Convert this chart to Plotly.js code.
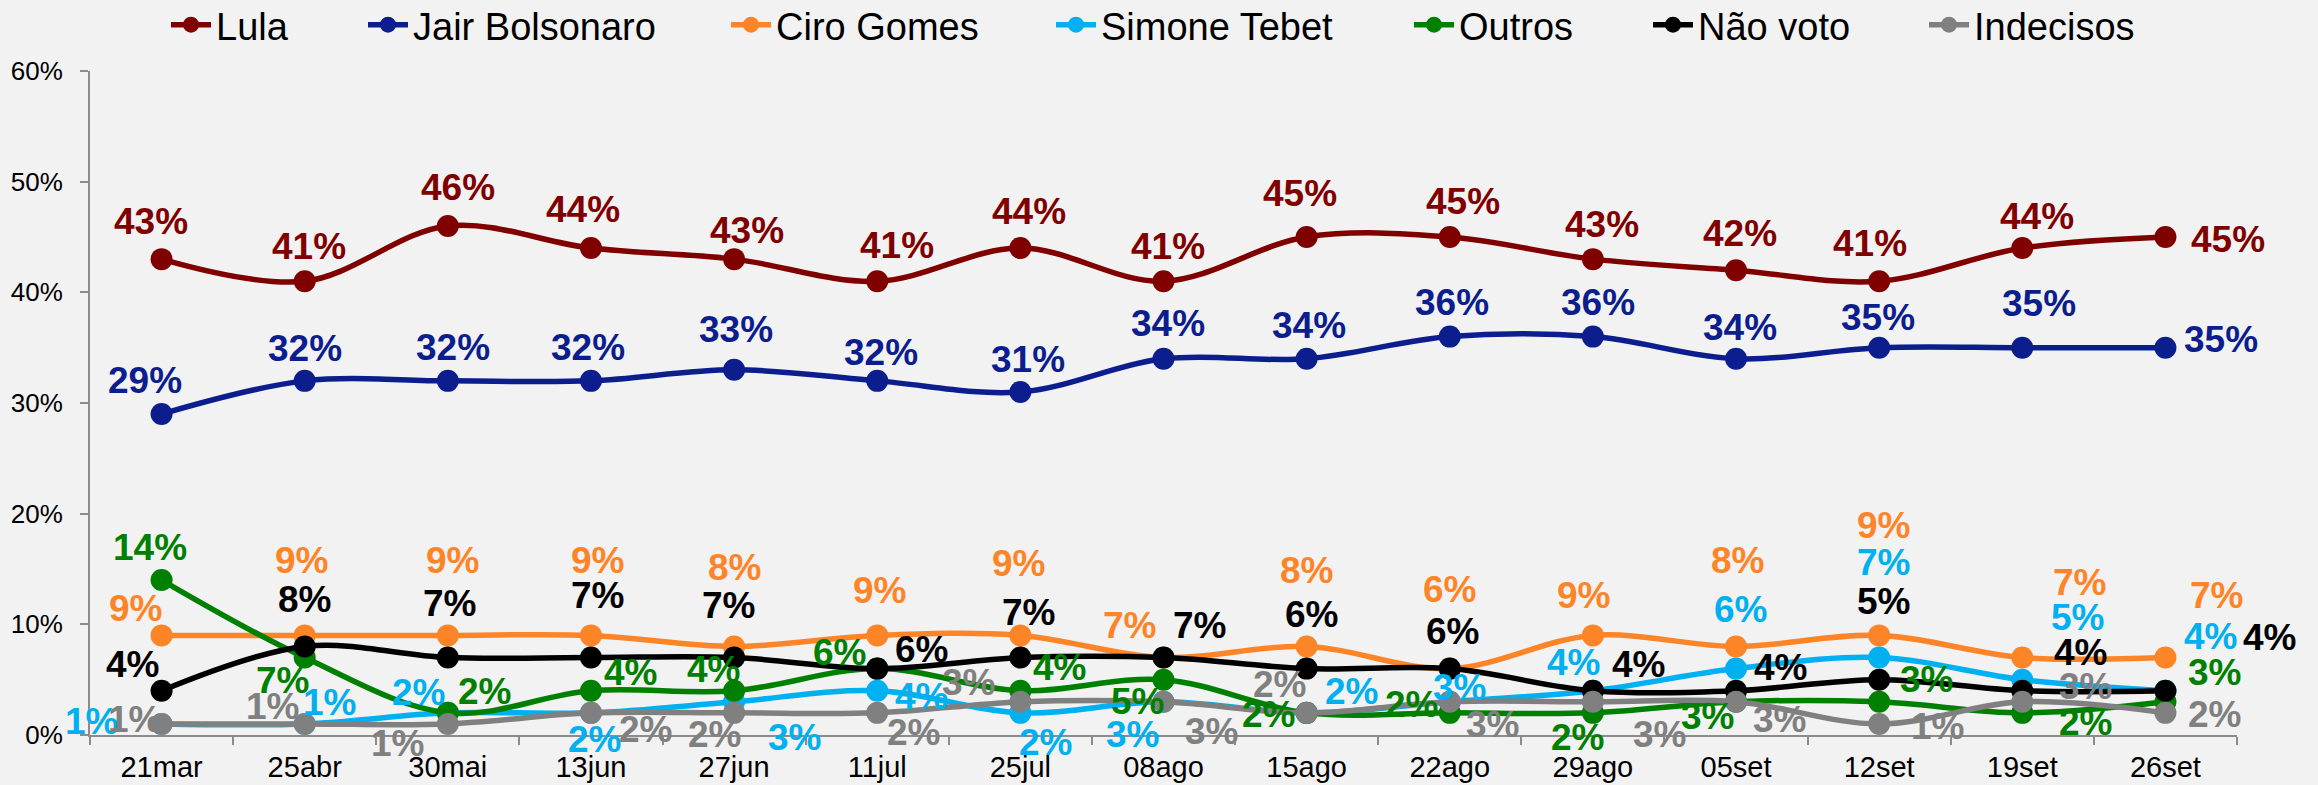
<!DOCTYPE html>
<html>
<head>
<meta charset="utf-8">
<script src="https://cdn.plot.ly/plotly-3.0.1.min.js"></script>
<style>html,body{margin:0;padding:0;background:#f2f2f2;}#chart{width:2318px;height:785px;}</style>
</head>
<body>
<div id="chart"></div>
<script>
// ---- data ----
const categories = ["21mar","25abr","30mai","13jun","27jun","11jul","25jul","08ago","15ago","22ago","29ago","05set","12set","19set","26set"];
const seriesNames = ["Lula","Jair Bolsonaro","Ciro Gomes","Simone Tebet","Outros","Não voto","Indecisos"];
const lula       = [43,41,46,44,43,41,44,41,45,45,43,42,41,44,45];
const bolsonaro  = [29,32,32,32,33,32,31,34,34,36,36,34,35,35,35];
const ciro       = [9,9,9,9,8,9,9,7,8,6,9,8,9,7,7];
const tebet      = [1,1,2,2,3,4,2,3,2,3,4,6,7,5,4];
const outros     = [14,7,2,4,4,6,4,5,2,2,2,3,3,2,3];
const naoVoto    = [4,8,7,7,7,6,7,7,6,6,4,4,5,4,4];
const indecisos  = [1,1,1,2,2,2,3,3,2,3,3,3,1,3,2];
const yTickVals  = [0,10,20,30,40,50,60];

// ---- styles ----
const colors = ["#800000","#0c1e8e","#fd8427","#00b0f0","#008000","#000000","#808080"];
const FONT = "Liberation Sans, Arial, sans-serif";
// legend entry marker centres (px from left)
const legendMarkerX = [186,383,746,1071,1429,1668,1944];

// label offsets in pixels (dx right, dy down)
const labelOffsets = [
  {dx:[-11,4,10,-8,13,20,9,4,-7,13,9,4,-9,15,63], dy:[-38,-35,-38,-39,-29,-36,-37,-35,-44,-36,-35,-37,-38,-32,2]},
  {dx:[-17,0,5,-3,2,4,8,4,2,2,5,4,-1,17,56], dy:[-34,-32,-33,-33,-40,-28,-32,-35,-33,-34,-34,-31,-30,-44,-8]},
  {dx:[-26,-3,5,7,0,2,-2,-34,0,0,-9,1,4,57,51], dy:[-27,-75,-75,-75,-79,-45,-72,-32,-76,-79,-40,-86,-110,-75,-62]},
  {dx:[-70,25,-29,4,60,44,25,-31,45,10,-19,4,4,55,45], dy:[-2,-21,-20,27,36,6,30,33,-21,-14,-28,-59,-95,-62,-54]},
  {dx:[-12,-22,37,40,-21,-38,39,-26,-38,-38,-15,-29,47,63,49], dy:[-33,23,-21,-18,-21,-16,-23,22,2,-8,25,15,-22,10,-29]},
  {dx:[-29,0,2,7,-6,44,8,36,5,3,46,44,4,58,104], dy:[-26,-47,-54,-62,-52,-19,-45,-32,-54,-37,-26,-23,-78,-38,-53]},
  {dx:[-27,-32,-50,55,-20,36,-52,48,-27,43,67,43,58,63,49], dy:[-4,-17,20,17,22,20,-19,30,-28,23,33,18,3,-15,2]}
];

const seriesValues = [lula,bolsonaro,ciro,tebet,outros,naoVoto,indecisos];
const legendId = k => (k===0 ? "legend" : "legend"+(k+1));

const traces = seriesValues.map((vals,k)=>({
  type:"scatter", mode:"lines+markers", name:seriesNames[k],
  x:categories, y:vals, legend:legendId(k),
  line:{color:colors[k], width:5.5, shape:"spline", smoothing:1},
  marker:{color:colors[k], size:22},
  hoverinfo:"skip"
}));

const annotations = [];
seriesValues.forEach((vals,k)=>{
  vals.forEach((v,i)=>{
    annotations.push({
      x:categories[i], y:v, xref:"x", yref:"y",
      text:v+"%", showarrow:false,
      xanchor:"center", yanchor:"middle",
      xshift:labelOffsets[k].dx[i], yshift:-labelOffsets[k].dy[i],
      font:{family:FONT, size:37, color:colors[k], weight:"bold"}
    });
  });
});

const layout = {
  width:2318, height:785,
  paper_bgcolor:"#f2f2f2", plot_bgcolor:"#f2f2f2",
  margin:{l:90, r:81, t:71, b:50, pad:0, autoexpand:false},
  font:{family:FONT, color:"#000"},
  showlegend:true,
  xaxis:{type:"category", range:[-0.5,14.5], showgrid:false, zeroline:false,
         showline:true, linecolor:"#8c8c8c", linewidth:2,
         ticks:"outside", tickson:"boundaries", ticklen:8, tickcolor:"#8c8c8c", tickwidth:2,
         ticklabelstandoff:5,
         tickfont:{family:FONT, size:29, color:"#000"}, fixedrange:true},
  yaxis:{range:[0,60], tickvals:yTickVals, ticktext:yTickVals.map(v=>v+"%"),
         showgrid:false, zeroline:false, showline:true, linecolor:"#8c8c8c", linewidth:2,
         ticks:"outside", ticklen:8, tickcolor:"#8c8c8c", tickwidth:2, ticklabelstandoff:12,
         tickfont:{family:FONT, size:26, color:"#000"}, fixedrange:true},
  annotations:annotations
};

seriesNames.forEach((n,k)=>{
  layout[legendId(k)] = {
    orientation:"h", xref:"container", yref:"container",
    x:(legendMarkerX[k]-20)/2318, xanchor:"left",
    y:1-25/785, yanchor:"middle", itemwidth:40,
    font:{family:FONT, size:38, color:"#000"}, bgcolor:"rgba(0,0,0,0)"
  };
});

Plotly.newPlot("chart", traces, layout, {displayModeBar:false, staticPlot:true});
</script>
</body>
</html>
